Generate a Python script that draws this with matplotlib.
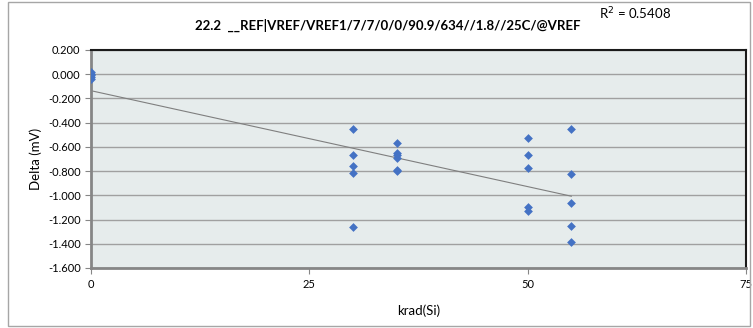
import numpy as np
import matplotlib
matplotlib.use('Agg')
import matplotlib.pyplot as plt
from matplotlib.patches import Rectangle

plt.rcParams['font.family'] = ['Lato', 'DejaVu Sans']

# data
dose = [0, 0, 0, 0, 0,
        30, 30, 30, 30, 30,
        35, 35, 35, 35, 35, 35,
        50, 50, 50, 50, 50,
        55, 55, 55, 55, 55]
delta = [0.015, 0.005, -0.010, -0.025, -0.040,
         -0.453, -0.665, -0.761, -0.817, -1.265,
         -0.571, -0.651, -0.665, -0.695, -0.790, -0.800,
         -0.525, -0.665, -0.773, -1.100, -1.133,
         -0.453, -0.825, -1.067, -1.257, -1.387]
# trend line as drawn in the chart (from the full data set)
trend_slope = -0.01584
trend_intercept = -0.136
title = '22.2  __REF|VREF/VREF1/7/7/0/0/90.9/634//1.8//25C/@VREF'
r2_text = 'R$^2$ = 0.5408'
yticks = [0.2, 0.0, -0.2, -0.4, -0.6, -0.8, -1.0, -1.2, -1.4, -1.6]
xticks = [0, 25, 50, 75]

fig = plt.figure(figsize=(7.53, 3.28), dpi=100)
ax = fig.add_axes([91/753, 1 - 268/328, (746-91)/753, (268-50)/328])

# outer chart border
fig.patches.append(Rectangle((8/753, 2/328), 742/753, 324/328, transform=fig.transFigure,
                             fill=False, edgecolor='#a6a6a6', linewidth=1))

ax.set_facecolor('#e6ecec')
ax.set_xlim(0, 75)
ax.set_ylim(-1.6, 0.2)
ax.set_yticks(yticks)
ax.set_yticklabels(['%.3f' % v if abs(v) > 1e-9 else '0.000' for v in yticks])
ax.set_xticks(xticks)
ax.yaxis.grid(True, color='#a0a0a0', linewidth=1)
ax.set_axisbelow(True)
ax.tick_params(axis='both', labelsize=8, color='#868686', direction='out', length=4)
ax.tick_params(axis='x', pad=4)

for s in ['left', 'bottom']:
    ax.spines[s].set_color('#868686')
    ax.spines[s].set_linewidth(2)
for s in ['top', 'right']:
    ax.spines[s].set_color('#1a1a1a')
    ax.spines[s].set_linewidth(1.5)

ax.scatter(dose, delta, marker='D', s=20, color='#4472c4', zorder=3, linewidths=0)

xs = np.array([min(dose), max(dose)])
ax.plot(xs, trend_slope * xs + trend_intercept, color='#7f7f7f', linewidth=0.8, zorder=2)

ax.set_xlabel('krad(Si)', fontsize=9.5, labelpad=10)
ax.set_ylabel('Delta (mV)', fontsize=9.5, labelpad=4)

fig.text(388/753, 1 - 25/328, title, fontsize=9.5, fontweight='bold', ha='center', va='center')
fig.text(599/753, 1 - 14/328, r2_text, fontsize=9.5, ha='left', va='center')

fig.savefig('out.png', dpi=100)
